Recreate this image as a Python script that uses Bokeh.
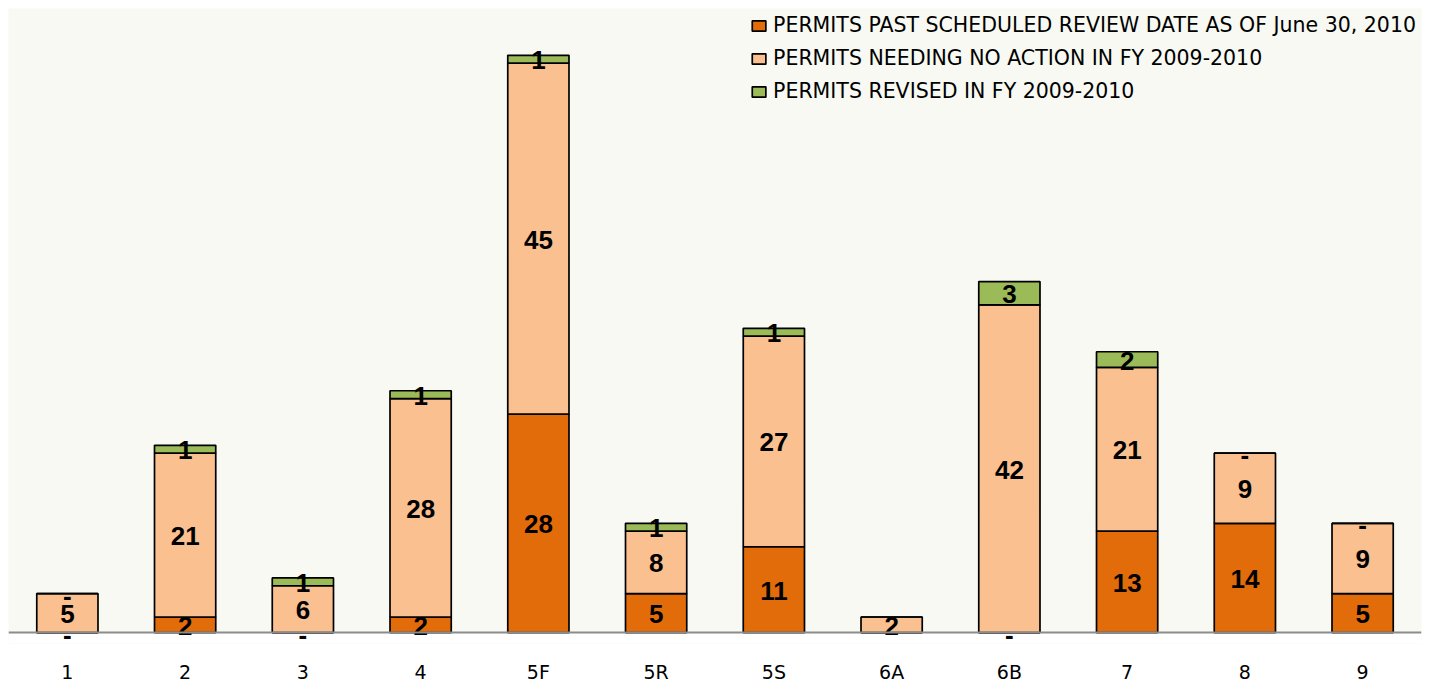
from bokeh.plotting import figure
from bokeh.models import (ColumnDataSource, Range1d, Legend, LegendItem, FactorRange,
                          Span, BoxAnnotation)
from bokeh.core.properties import value
from bokeh.embed import file_html
from bokeh.resources import INLINE

regions = ["1", "2", "3", "4", "5F", "5R", "5S", "6A", "6B", "7", "8", "9"]
past_due = [0, 2, 0, 2, 28, 5, 11, 0, 0, 13, 14, 5]
no_action = [5, 21, 6, 28, 45, 8, 27, 2, 42, 21, 9, 9]
revised = [0, 1, 1, 1, 1, 1, 1, 0, 3, 2, 0, 0]
series_names = [
    "PERMITS PAST SCHEDULED REVIEW DATE AS OF June 30, 2010",
    "PERMITS NEEDING NO ACTION IN FY 2009-2010",
    "PERMITS REVISED IN FY 2009-2010",
]
no_dash_regions = ["6A"]

colors = ["#E36C0A", "#FAC090", "#9BBB59"]
LABEL_FONT = "Liberation Sans"
TEXT_FONT = "DejaVu Sans"

p = figure(x_range=FactorRange(factors=regions, range_padding=0),
           y_range=Range1d(-1.4, 80),
           frame_width=1413, frame_height=635,
           min_border_left=8, min_border_right=6, min_border_top=8, min_border_bottom=36,
           output_backend="svg", toolbar_location=None)
p.background_fill_color = "#F7F9F2"
p.border_fill_color = "white"
p.outline_line_color = None
p.xgrid.visible = False
p.ygrid.visible = False
p.yaxis.visible = False

# white area below the baseline, and the baseline itself
p.add_layout(BoxAnnotation(top=0, fill_color="white", fill_alpha=1, line_color=None, level="underlay"))
p.add_layout(Span(location=0, dimension="width", line_color="#8C8C8C", line_width=2))

b1 = [0] * len(regions)
t1 = [a for a in past_due]
b2 = t1[:]
t2 = [a + b for a, b in zip(past_due, no_action)]
b3 = t2[:]
t3 = [a + b for a, b in zip(t2, revised)]

renderers = []
for bot, top, col in [(b1, t1, colors[0]), (b2, t2, colors[1]), (b3, t3, colors[2])]:
    src = ColumnDataSource(dict(x=regions, bottom=bot, top=top))
    r = p.vbar(x="x", bottom="bottom", top="top", width=0.52, source=src,
               fill_color=col, line_color="black", line_width=1.7)
    renderers.append(r)

# data labels
lx, ly, lt, lo = [], [], [], []
for vals, bot, top in [(past_due, b1, t1), (no_action, b2, t2), (revised, b3, t3)]:
    for reg, v, b, t in zip(regions, vals, bot, top):
        if v == 0:
            if reg in no_dash_regions:
                continue
            lt.append("-")
            lo.append(2)
        else:
            lt.append(str(v))
            lo.append(1)
        lx.append(reg)
        ly.append((b + t) / 2)
lsrc = ColumnDataSource(dict(x=lx, y=ly, t=lt, off=lo))
p.text(x="x", y="y", text="t", y_offset="off", source=lsrc, text_align="center",
       text_baseline="middle", text_font=value(LABEL_FONT), text_font_style="bold",
       text_font_size="26px", text_color="black")

ax = p.xaxis[0]
ax.axis_line_color = None
ax.major_tick_line_color = None
ax.minor_tick_line_color = None
ax.major_tick_out = 0
ax.major_label_standoff = 17
ax.major_label_text_font = TEXT_FONT
ax.major_label_text_font_size = "19px"
ax.major_label_text_color = "black"

legend = Legend(items=[LegendItem(label=n, renderers=[r]) for n, r in zip(series_names, renderers)],
                location="top_right", margin=5, padding=0, spacing=9,
                label_height=20, glyph_height=13, glyph_width=17, label_standoff=6,
                label_text_font=TEXT_FONT, label_text_font_size="20.5px", label_text_color="black",
                background_fill_alpha=0, border_line_color=None)
p.add_layout(legend)

open("out.html", "w").write(file_html(p, INLINE))
